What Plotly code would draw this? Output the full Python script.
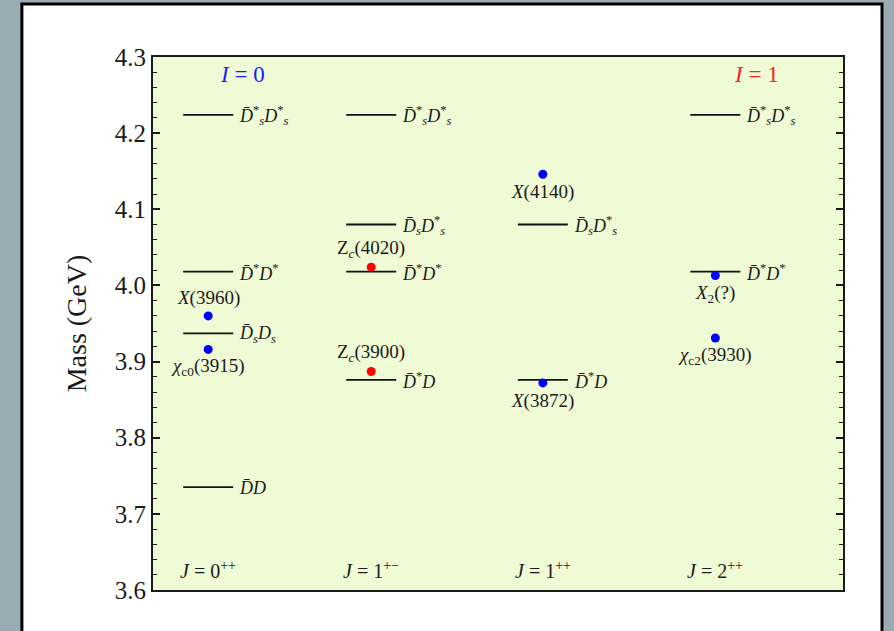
import plotly.graph_objects as go

# ---------------- data ----------------
col_names = ["<i>J</i> = 0<sup>++</sup>", "<i>J</i> = 1<sup>+−</sup>",
             "<i>J</i> = 1<sup>++</sup>", "<i>J</i> = 2<sup>++</sup>"]
col_x = [0.32, 1.265, 2.26, 3.26]

DsDs_st = "<i>D̄</i><sup>*</sup><sub><i>s</i></sub><i>D</i><sup>*</sup><sub><i>s</i></sub>"
DsDs1 = "<i>D̄</i><sub><i>s</i></sub><i>D</i><sup>*</sup><sub><i>s</i></sub>"
DstDst = "<i>D̄</i><sup>*</sup><i>D</i><sup>*</sup>"
DsDs = "<i>D̄</i><sub><i>s</i></sub><i>D</i><sub><i>s</i></sub>"
DstD = "<i>D̄</i><sup>*</sup><i>D</i>"
DD = "<i>D̄D</i>"

thr_col = [0, 0, 0, 0, 1, 1, 1, 1, 2, 2, 3, 3]
thr_mass = [4.224, 4.018, 3.937, 3.735, 4.224, 4.080, 4.018, 3.876, 4.080, 3.876, 4.224, 4.018]
thr_label = [DsDs_st, DstDst, DsDs, DD, DsDs_st, DsDs1, DstDst, DstD, DsDs1, DstD, DsDs_st, DstDst]

dot_col = [0, 0, 1, 1, 2, 2, 3, 3]
dot_mass = [3.960, 3.916, 4.024, 3.887, 4.146, 3.872, 4.013, 3.931]
dot_label = ["<i>X</i>(3960)", "<i>χ</i><sub>c0</sub>(3915)", "Z<sub><i>c</i></sub>(4020)",
             "Z<sub><i>c</i></sub>(3900)", "<i>X</i>(4140)", "<i>X</i>(3872)",
             "<i>X</i><sub>2</sub>(?)", "<i>χ</i><sub>c2</sub>(3930)"]
dot_side = ["above", "below", "above", "above", "below", "below", "below", "below"]
dot_color = ["#0000ff", "#0000ff", "#ff0000", "#ff0000", "#0000ff", "#0000ff", "#0000ff", "#0000ff"]

isospin_text = ["<i>I</i> = 0", "<i>I</i> = 1"]
isospin_color = ["#1a1aff", "#ff2020"]

y_ticks = [3.6, 3.7, 3.8, 3.9, 4.0, 4.1, 4.2, 4.3]

# ---------------- figure ----------------
FONT = "Liberation Serif"
half = 0.145

lx, ly = [], []
for c, m in zip(thr_col, thr_mass):
    lx += [col_x[c] - half, col_x[c] + half, None]
    ly += [m, m, None]

fig = go.Figure()
fig.add_trace(go.Scatter(x=lx, y=ly, mode="lines",
                         line=dict(color="#111111", width=1.8),
                         hoverinfo="skip", showlegend=False))
fig.add_trace(go.Scatter(x=[col_x[c] for c in dot_col], y=dot_mass, mode="markers",
                         marker=dict(color=dot_color, size=9, line=dict(width=0)),
                         showlegend=False))

ann = []
for c, m, t in zip(thr_col, thr_mass, thr_label):
    ann.append(dict(x=col_x[c] + half, y=m, text=t, showarrow=False, xanchor="left",
                    yanchor="middle", xshift=4, yshift=-1,
                    font=dict(family=FONT, size=18, color="#1a1a1a")))
for c, m, t, s in zip(dot_col, dot_mass, dot_label, dot_side):
    ann.append(dict(x=col_x[c], y=m, text=t, showarrow=False, xanchor="center",
                    yanchor="middle", yshift=18 if s == "above" else -18,
                    font=dict(family=FONT, size=19, color="#1a1a1a")))
for x, t in zip(col_x, col_names):
    ann.append(dict(x=x, y=3.6, text=t, showarrow=False, xanchor="center",
                    yanchor="bottom", yshift=6,
                    font=dict(family=FONT, size=20, color="#1a1a1a")))
for x, t, c in zip([0.52, 3.50], isospin_text, isospin_color):
    ann.append(dict(x=x, y=4.3, text=t, showarrow=False, xanchor="center",
                    yanchor="top", yshift=-3,
                    font=dict(family=FONT, size=23, color=c)))

shapes = [
    dict(type="rect", xref="paper", yref="paper", x0=-0.19, x1=1.0565, y0=-0.2, y1=1.0994,
         fillcolor="white", line=dict(color="black", width=3), layer="below"),
    dict(type="rect", xref="paper", yref="paper", x0=0, x1=1, y0=0, y1=1,
         fillcolor="#effbd5", line=dict(width=0), layer="below"),
]

fig.update_layout(
    width=894, height=631,
    margin=dict(l=153, r=51, t=57, b=41),
    paper_bgcolor="#9aabb1",
    plot_bgcolor="#effbd5",
    annotations=ann,
    shapes=shapes,
    font=dict(family=FONT, color="#1a1a1a"),
    xaxis=dict(range=[0, 4], showgrid=False, zeroline=False, showticklabels=False,
               ticks="", showline=True, linecolor="#1a1a1a", linewidth=2, mirror=True,
               fixedrange=True),
    yaxis=dict(range=[3.6, 4.3], tickvals=y_ticks, tickformat=".1f", showgrid=False,
               zeroline=False, ticks="inside", ticklen=7, tickwidth=1.5, tickcolor="#1a1a1a",
               showline=True, linecolor="#1a1a1a", linewidth=2, mirror="ticks",
               tickfont=dict(family=FONT, size=25, color="#1a1a1a"),
               minor=dict(dtick=0.02, ticks="inside", ticklen=4, tickwidth=1.2,
                          tickcolor="#1a1a1a", showgrid=False),
               title=dict(text="Mass (GeV)", standoff=20,
                          font=dict(family=FONT, size=28, color="#1a1a1a")),
               fixedrange=True),
)

fig.write_html("out.html", config={"displayModeBar": False},
               post_script="document.body.style.margin='0';document.body.style.overflow='hidden';")
